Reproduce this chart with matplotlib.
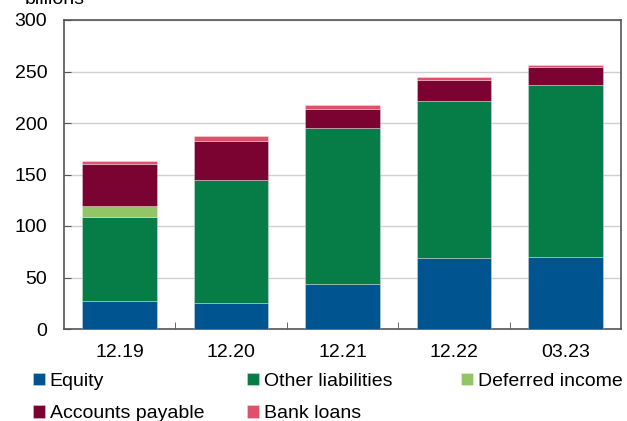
import numpy as np
from matplotlib import pyplot as plt
from matplotlib.ticker import FixedLocator

plt.rcParams['font.family'] = ['Liberation Sans', 'DejaVu Sans']

categories = ["12.19", "12.20", "12.21", "12.22", "03.23"]
equity = [27, 25, 44, 69, 70]
other_liabilities = [82, 120, 151, 152, 166.5]
deferred_income = [10, 0, 0, 0, 0]
accounts_payable = [41, 37.5, 18.5, 20.5, 18]
bank_loans = [3, 4.5, 4, 3, 1.7]

series = [
    ("Equity", equity, "#00548f"),
    ("Other liabilities", other_liabilities, "#067d46"),
    ("Deferred income", deferred_income, "#92c566"),
    ("Accounts payable", accounts_payable, "#7b0332"),
    ("Bank loans", bank_loans, "#e0506a"),
]

fig = plt.figure(figsize=(6.27, 4.21), dpi=100)
ax = fig.add_axes([64/627, 1 - 329/421, 557/627, 309/421])

x = np.arange(len(categories))
bottom = np.zeros(len(categories))
handles = []
for name, vals, col in series:
    vals = np.array(vals, dtype=float)
    b = ax.bar(x, vals, 0.67, bottom=bottom, color=col, label=name,
               edgecolor=(1, 1, 1, 0.35), linewidth=0.6, zorder=3)
    handles.append(b)
    bottom += vals

ax.set_xlim(-0.5, len(categories) - 0.5)
ax.set_ylim(0, 300)
ax.set_yticks(np.arange(0, 301, 50))
ax.yaxis.grid(True, color="#d0d0d0", linewidth=1, zorder=0)
ax.set_xticks(x)
ax.set_xticklabels(categories)
ax.xaxis.set_minor_locator(FixedLocator(np.arange(0.5, len(categories) - 1, 1)))
ax.tick_params(axis="x", which="major", length=0, pad=11, labelsize=14)
ax.tick_params(axis="x", which="minor", direction="in", length=5, color="#555555")
ax.tick_params(axis="y", direction="in", length=5, color="#555555", labelsize=14, pad=12)
for s in ax.spines.values():
    s.set_color("#555555")
    s.set_linewidth(1.2)

fig.text(25/627, 1 + 1/421, "billions", fontsize=14, va="center", ha="left")

# legend laid out as three columns at fixed positions, filled row by row
cols = [[handles[0], handles[3]], [handles[1], handles[4]], [handles[2]]]
col_x = [33, 247, 461]
for hs, cx in zip(cols, col_x):
    fig.legend(handles=hs, loc="upper left", bbox_to_anchor=(cx/627, 1 - 373/421),
               frameon=False, fontsize=14, handlelength=0.6, handleheight=0.6,
               handletextpad=0.25, labelspacing=0.78, borderpad=0, borderaxespad=0)

fig.savefig("out.png", dpi=100)
